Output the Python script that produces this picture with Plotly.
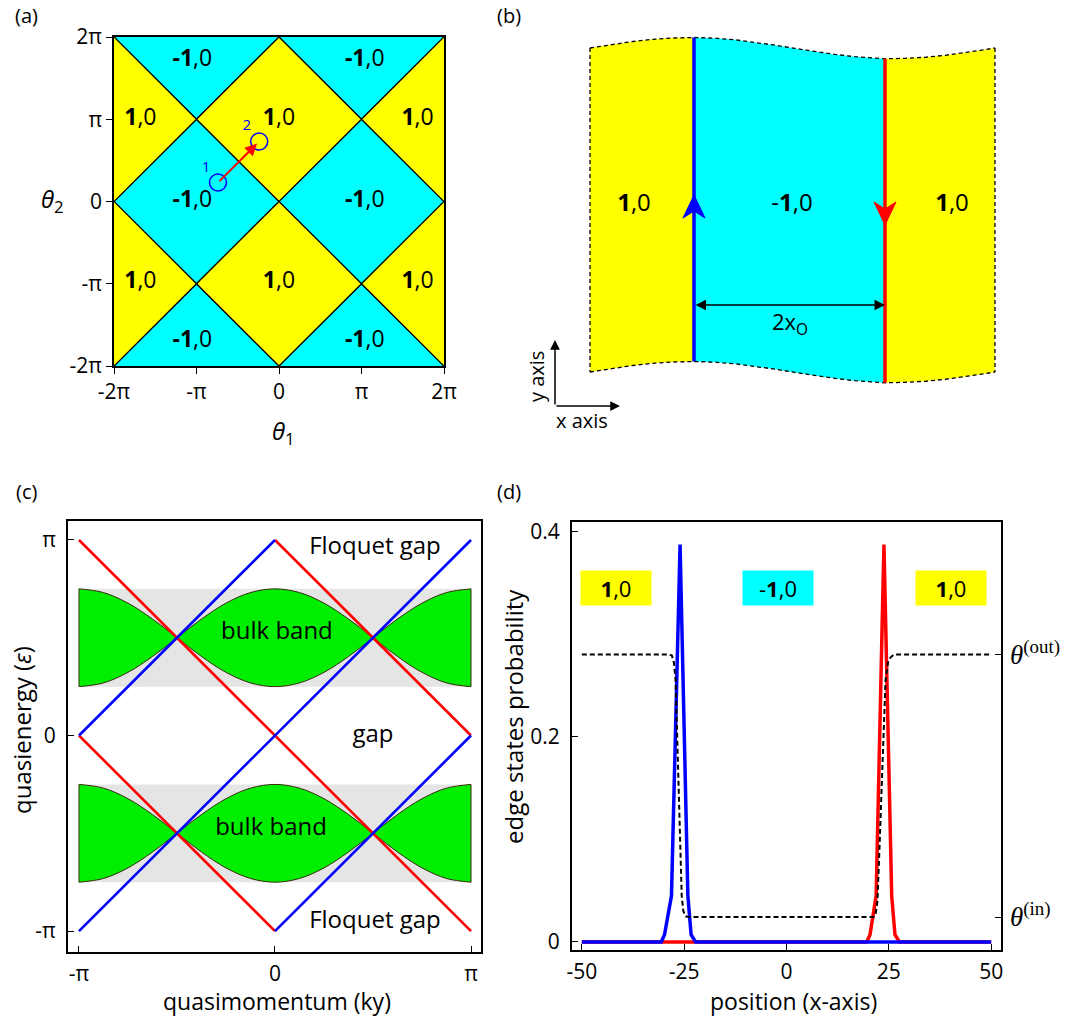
import math
import plotly.graph_objects as go

PI = math.pi
W, H = 1085, 1016
FONT = "Open Sans, sans-serif"
SERIF = "Liberation Serif, DejaVu Serif, serif"
YELLOW = "#ffff00"
CYAN = "#00ffff"
GREEN = "#00ee00"
GRAY = "#e5e5e5"


def px(x):
    return x / W


def py(y):
    return 1 - y / H


# ---------------- (a) phase diagram data (units of pi) ----------------
a_tick_vals = [-2, -1, 0, 1, 2]
a_tick_text = ["-2π", "-π", "0", "π", "2π"]
a_cyan_cx = [-1, 1, -1, 1, -1, 1]
a_cyan_cy = [0, 0, 2, 2, -2, -2]
a_yellow_cx = [0, 0, -2, -2, 2, 2]
a_yellow_cy = [1, -1, 1, -1, 1, -1]
a_label_x = [-1.05, 1.04, -1.05, 1.04, -1.05, 1.04, -1.68, 0.0, 1.68, -1.68, 0.0, 1.68]
a_label_y = [1.72, 1.72, 0.0, 0.0, -1.70, -1.70, 1.0, 1.0, 1.0, -0.98, -0.98, -0.98]
a_label_text = ["<b>-1</b>,0"] * 6 + ["<b>1</b>,0"] * 6
a_path_x = [-0.74, -0.24]
a_path_y = [0.23, 0.73]
a_path_labels = ["1", "2"]
a_path_label_x = [-0.885, -0.39]
a_path_label_y = [0.40, 0.91]

# ---------------- (b) schematic geometry (schematic pixel units) ----------------
b_edge_x = [590, 694, 885, 995]          # left border, blue edge, red edge, right border
b_wave_x = [590, 610, 630, 650, 670, 694, 715, 735, 755, 775, 795, 815, 835, 855, 885,
            905, 925, 945, 965, 980, 995]
b_wave_top = [48, 44.8, 41.9, 39.6, 38.1, 37.5, 38.2, 39.8, 42.2, 45.2, 48.4, 51.6, 54.4,
              56.7, 58.8, 58.3, 57.3, 55.3, 52.7, 50.4, 48]
b_height = 324
b_region_colors = [YELLOW, CYAN, YELLOW]
b_label_x = [634, 792, 952]
b_label_y = [205, 205, 205]
b_label_text = ["<b>1</b>,0", "-<b>1</b>,0", "<b>1</b>,0"]
b_up_head = dict(tip=195, base=218, notch=211, half=11)
b_down_head = dict(tip=225, base=202, notch=209, half=11)
b_span_y = 305
b_axes_origin = (555, 406)
b_axes_tip = (620, 340)

# ---------------- (c) quasienergy spectrum (units of pi) ----------------
c_ticks = [-1, 0, 1]
c_tick_text = ["-π", "0", "π"]
c_red_k = [-1, 1, None, 0, 1, None, -1, 0]
c_red_e = [1, -1, None, 1, 0, None, 0, -1]
c_blue_k = [-1, 1, None, -1, 0, None, 0, 1]
c_blue_e = [-1, 1, None, 0, 1, None, -1, 0]
c_band_k = [-1, -0.875, -0.75, -0.625, -0.5, -0.375, -0.25, -0.125, 0,
            0.125, 0.25, 0.375, 0.5, 0.625, 0.75, 0.875, 1]
c_band_shape = [-0.25, -0.231, -0.177, -0.096, 0, 0.096, 0.177, 0.231, 0.25,
                0.231, 0.177, 0.096, 0, -0.096, -0.177, -0.231, -0.25]
c_band_centers = [0.5, -0.5]
c_gray_half = 0.25
c_text = ["Floquet gap", "bulk band", "gap", "bulk band", "Floquet gap"]
c_text_k = [0.51, 0.01, 0.50, -0.02, 0.51]
c_text_e = [0.96, 0.525, 0.0, -0.48, -0.955]

# ---------------- (d) edge state profiles ----------------
d_xticks = [-50, -25, 0, 25, 50]
d_yticks = [0, 0.2, 0.4]
d_blue_x = [-50, -30.6, -29.8, -28.1, -26.0, -24.1, -23.3, -22.2, 50]
d_blue_y = [0, 0, 0.007, 0.045, 0.387, 0.045, 0.007, 0, 0]
d_red_x = [-50, 19.6, 20.4, 21.9, 23.8, 25.7, 26.5, 27.6, 50]
d_red_y = [0, 0, 0.007, 0.045, 0.387, 0.045, 0.007, 0, 0]
d_theta_x = [-50, -28.6, -28.0, -27.5, -27.1, -26.6, -26.1, -25.6, -25.2, -24.6, -24.0,
             21.3, 21.8, 22.2, 22.7, 23.2, 23.7, 24.2, 24.8, 25.4, 26.2, 50]
d_theta_y = [0.280, 0.280, 0.279, 0.272, 0.255, 0.19, 0.115, 0.045, 0.030, 0.025, 0.0243,
             0.0243, 0.028, 0.039, 0.09, 0.145, 0.20, 0.255, 0.272, 0.277, 0.280, 0.280]
d_theta_ticks = [0.280, 0.0243]
d_theta_text = ["<i>θ</i><sup>(out)</sup>", "<i>θ</i><sup>(in)</sup>"]
d_box_x = [-41.6, -2.0, 40.3]
d_box_y = [0.345, 0.345, 0.345]
d_box_text = ["<b>1</b>,0", "-<b>1</b>,0", "<b>1</b>,0"]
d_box_color = [YELLOW, CYAN, YELLOW]

fig = go.Figure()
ann = []

# ====== (a) ======
def diamonds(cx, cy):
    xs, ys = [], []
    for x0, y0 in zip(cx, cy):
        xs += [(x0 - 1) * PI, x0 * PI, (x0 + 1) * PI, x0 * PI, (x0 - 1) * PI, None]
        ys += [y0 * PI, (y0 + 1) * PI, y0 * PI, (y0 - 1) * PI, y0 * PI, None]
    return xs, ys

for cx, cy, col in [(a_cyan_cx, a_cyan_cy, CYAN), (a_yellow_cx, a_yellow_cy, YELLOW)]:
    xs, ys = diamonds(cx, cy)
    fig.add_trace(go.Scatter(x=xs, y=ys, mode="lines", fill="toself", fillcolor=col,
                             line=dict(color="black", width=1.2), xaxis="x", yaxis="y",
                             hoverinfo="skip", showlegend=False))

fig.add_trace(go.Scatter(x=[v * PI for v in a_path_x], y=[v * PI for v in a_path_y],
                         mode="markers", marker=dict(symbol="circle-open", size=17,
                                                     line=dict(color="blue", width=1.5), color="blue"),
                         xaxis="x", yaxis="y", hoverinfo="skip", showlegend=False))
fig.add_trace(go.Scatter(x=[v * PI for v in a_path_label_x], y=[v * PI for v in a_path_label_y],
                         mode="text", text=a_path_labels, textfont=dict(color="blue", size=15, family=FONT),
                         xaxis="x", yaxis="y", hoverinfo="skip", showlegend=False))
fig.add_trace(go.Scatter(x=[v * PI for v in a_label_x], y=[v * PI for v in a_label_y],
                         mode="text", text=a_label_text, textfont=dict(color="black", size=23, family=FONT),
                         xaxis="x", yaxis="y", hoverinfo="skip", showlegend=False))
ann.append(dict(x=a_path_x[1] * PI, y=a_path_y[1] * PI, ax=a_path_x[0] * PI, ay=a_path_y[0] * PI,
                xref="x", yref="y", axref="x", ayref="y", text="", showarrow=True,
                arrowhead=2, arrowsize=1.2, arrowwidth=2, arrowcolor="red", standoff=3))

# ====== (b) ======
bottom = [t + b_height for t in b_wave_top]
for i, col in enumerate(b_region_colors):
    xa, xb = b_edge_x[i], b_edge_x[i + 1]
    idx = [j for j, x in enumerate(b_wave_x) if xa <= x <= xb]
    xs = [b_wave_x[j] for j in idx] + [b_wave_x[j] for j in reversed(idx)] + [b_wave_x[idx[0]]]
    ys = [b_wave_top[j] for j in idx] + [bottom[j] for j in reversed(idx)] + [b_wave_top[idx[0]]]
    fig.add_trace(go.Scatter(x=xs, y=ys, mode="lines", fill="toself", fillcolor=col,
                             line=dict(width=0, color=col), xaxis="x2", yaxis="y2",
                             hoverinfo="skip", showlegend=False))
# dashed outline
ox = b_wave_x + [None] + b_wave_x + [None] + [b_edge_x[0], b_edge_x[0], None, b_edge_x[-1], b_edge_x[-1]]
oy = b_wave_top + [None] + bottom + [None] + [b_wave_top[0], bottom[0], None, b_wave_top[-1], bottom[-1]]
fig.add_trace(go.Scatter(x=ox, y=oy, mode="lines", line=dict(color="black", width=1.3, dash="4px,3px"),
                         xaxis="x2", yaxis="y2", hoverinfo="skip", showlegend=False))
# edges
for xe, col in [(b_edge_x[1], "blue"), (b_edge_x[2], "red")]:
    j = b_wave_x.index(xe)
    fig.add_trace(go.Scatter(x=[xe, xe], y=[b_wave_top[j], bottom[j]], mode="lines",
                             line=dict(color=col, width=3.5), xaxis="x2", yaxis="y2",
                             hoverinfo="skip", showlegend=False))
for xe, hd, col in [(b_edge_x[1], b_up_head, "blue"), (b_edge_x[2], b_down_head, "red")]:
    hx = [xe, xe - hd["half"], xe, xe + hd["half"], xe]
    hy = [hd["tip"], hd["base"], hd["notch"], hd["base"], hd["tip"]]
    fig.add_trace(go.Scatter(x=hx, y=hy, mode="lines", fill="toself", fillcolor=col,
                             line=dict(color=col, width=1), xaxis="x2", yaxis="y2",
                             hoverinfo="skip", showlegend=False))
fig.add_trace(go.Scatter(x=b_label_x, y=b_label_y, mode="text", text=b_label_text,
                         textfont=dict(color="black", size=24, family=FONT),
                         xaxis="x2", yaxis="y2", hoverinfo="skip", showlegend=False))
ann.append(dict(x=b_edge_x[2], y=b_span_y, ax=b_edge_x[1], ay=b_span_y, xref="x2", yref="y2",
                axref="x2", ayref="y2", text="", showarrow=True, arrowside="end+start",
                arrowhead=2, arrowsize=1.4, arrowwidth=1.5, arrowcolor="black"))
ann.append(dict(x=(b_edge_x[1] + b_edge_x[2]) / 2, y=b_span_y + 18, xref="x2", yref="y2",
                xanchor="center", yanchor="middle",
                text="2x<sub>O</sub>", showarrow=False, font=dict(size=22, family=FONT, color="black")))
ox0, oy0 = b_axes_origin
ann.append(dict(x=ox0, y=b_axes_tip[1], ax=ox0, ay=oy0, xref="x2", yref="y2", axref="x2", ayref="y2",
                text="", showarrow=True, arrowhead=2, arrowsize=1.3, arrowwidth=1.5, arrowcolor="black"))
ann.append(dict(x=b_axes_tip[0], y=oy0, ax=ox0, ay=oy0, xref="x2", yref="y2", axref="x2", ayref="y2",
                text="", showarrow=True, arrowhead=2, arrowsize=1.3, arrowwidth=1.5, arrowcolor="black"))
ann.append(dict(x=px(582), y=py(421), xref="paper", yref="paper", text="x axis", showarrow=False,
                xanchor="center", yanchor="middle", font=dict(size=20, family=FONT, color="black")))
ann.append(dict(x=px(536), y=py(377), xref="paper", yref="paper", text="y axis", showarrow=False,
                xanchor="center", yanchor="middle", textangle=-90,
                font=dict(size=20, family=FONT, color="black")))

# ====== (c) ======
for ce in c_band_centers:
    lo, hi = (ce - c_gray_half) * PI, (ce + c_gray_half) * PI
    fig.add_trace(go.Scatter(x=[-PI, PI, PI, -PI, -PI], y=[lo, lo, hi, hi, lo], mode="lines",
                             fill="toself", fillcolor=GRAY, line=dict(width=0, color=GRAY),
                             xaxis="x3", yaxis="y3", hoverinfo="skip", showlegend=False))
for ce in c_band_centers:
    kk = [k * PI for k in c_band_k]
    up = [(ce + s) * PI for s in c_band_shape]
    dn = [(ce - s) * PI for s in c_band_shape]
    fig.add_trace(go.Scatter(x=kk, y=up, mode="lines", line=dict(color="#3a2a10", width=1, shape="spline"),
                             xaxis="x3", yaxis="y3", hoverinfo="skip", showlegend=False))
    fig.add_trace(go.Scatter(x=kk, y=dn, mode="lines", fill="tonexty", fillcolor=GREEN,
                             line=dict(color="#3a2a10", width=1, shape="spline"),
                             xaxis="x3", yaxis="y3", hoverinfo="skip", showlegend=False))
    fig.add_trace(go.Scatter(x=[kk[0], kk[0], None, kk[-1], kk[-1]],
                             y=[up[0], dn[0], None, up[-1], dn[-1]], mode="lines",
                             line=dict(color="#3a2a10", width=1), xaxis="x3", yaxis="y3",
                             hoverinfo="skip", showlegend=False))
for ks, es, col in [(c_red_k, c_red_e, "red"), (c_blue_k, c_blue_e, "blue")]:
    fig.add_trace(go.Scatter(x=[None if k is None else k * PI for k in ks],
                             y=[None if e is None else e * PI for e in es], mode="lines",
                             line=dict(color=col, width=2.6), xaxis="x3", yaxis="y3",
                             hoverinfo="skip", showlegend=False))
fig.add_trace(go.Scatter(x=[k * PI for k in c_text_k], y=[e * PI for e in c_text_e], mode="text",
                         text=c_text, textfont=dict(size=24, family=FONT, color="black"),
                         xaxis="x3", yaxis="y3", hoverinfo="skip", showlegend=False))

# ====== (d) ======
fig.add_trace(go.Scatter(x=d_red_x, y=d_red_y, mode="lines", line=dict(color="red", width=3.5),
                         xaxis="x4", yaxis="y4", hoverinfo="skip", showlegend=False))
fig.add_trace(go.Scatter(x=d_blue_x, y=d_blue_y, mode="lines", line=dict(color="blue", width=3.5),
                         xaxis="x4", yaxis="y4", hoverinfo="skip", showlegend=False))
fig.add_trace(go.Scatter(x=d_theta_x, y=d_theta_y, mode="lines",
                         line=dict(color="black", width=2, dash="5px,3px"),
                         xaxis="x4", yaxis="y5", hoverinfo="skip", showlegend=False))
for bx, by, bt, bc in zip(d_box_x, d_box_y, d_box_text, d_box_color):
    ann.append(dict(x=bx, y=by, xref="x4", yref="y4", text=bt, showarrow=False, bgcolor=bc,
                    xanchor="center", yanchor="middle",
                    width=68, height=32, font=dict(size=22, family=FONT, color="black")))

# ====== axis titles & panel labels ======
for txt, x, y, ang, size in [
    ("(a)", 26, 16, 0, 20), ("(b)", 509, 16, 0, 20), ("(c)", 26, 491, 0, 20), ("(d)", 509, 491, 0, 20),
    ("<i>θ</i><sub>2</sub>", 52, 200, 0, 24), ("<i>θ</i><sub>1</sub>", 283, 432, 0, 24),
    ("quasienergy (<i>ε</i>)", 21, 730, -90, 24), ("quasimomentum (ky)", 277, 1001, 0, 23),
    ("edge states probability", 513, 717, -90, 24), ("position (x-axis)", 793, 1001, 0, 23),
]:
    ann.append(dict(x=px(x), y=py(y), xref="paper", yref="paper", text=txt, showarrow=False,
                    xanchor="center", yanchor="middle",
                    textangle=ang, font=dict(size=size, family=FONT, color="black")))

frame = dict(showline=True, mirror=True, linecolor="black", showgrid=False, zeroline=False,
             automargin=False, tickcolor="black", tickfont=dict(size=21, family=FONT, color="black"))

fig.update_layout(
    width=W, height=H, margin=dict(l=0, r=0, t=0, b=0, pad=0, autoexpand=False),
    paper_bgcolor="white", plot_bgcolor="white", showlegend=False,
    font=dict(family=FONT, color="black"),
    xaxis=dict(frame, domain=[px(114), px(444)], range=[-2 * PI, 2 * PI],
               tickvals=[v * PI for v in a_tick_vals], ticktext=a_tick_text,
               ticks="outside", ticklen=6, linewidth=1.5, anchor="y"),
    yaxis=dict(frame, domain=[py(366), py(37)], range=[-2 * PI, 2 * PI],
               tickvals=[v * PI for v in a_tick_vals], ticktext=a_tick_text,
               ticks="outside", ticklen=6, linewidth=1.5, anchor="x"),
    xaxis2=dict(domain=[px(540), 1.0], range=[540, 1085], visible=False, anchor="y2", automargin=False),
    yaxis2=dict(domain=[py(440), 1.0], range=[440, 0], visible=False, anchor="x2", automargin=False),
    xaxis3=dict(frame, domain=[px(68), px(481)], range=[-1.056 * PI, 1.051 * PI],
                tickvals=[v * PI for v in c_ticks], ticktext=c_tick_text,
                ticks="inside", ticklen=6, linewidth=2, anchor="y3", ticklabelstandoff=2),
    yaxis3=dict(frame, domain=[py(952), py(521)], range=[-1.107 * PI, 1.097 * PI],
                tickvals=[v * PI for v in c_ticks], ticktext=c_tick_text,
                ticks="inside", ticklen=6, linewidth=2, anchor="x3", ticklabelstandoff=6),
    xaxis4=dict(frame, domain=[px(572), px(1001)], range=[-52.4, 52.4],
                tickvals=d_xticks, ticktext=[str(v) for v in d_xticks],
                ticks="inside", ticklen=6, linewidth=2, anchor="y4", ticklabelstandoff=2),
    yaxis4=dict(frame, domain=[py(950), py(522)], range=[-0.0078, 0.409],
                tickvals=d_yticks, ticktext=["0", "0.2", "0.4"],
                ticks="inside", ticklen=6, linewidth=2, anchor="x4", ticklabelstandoff=6),
    yaxis5=dict(overlaying="y4", side="right", anchor="x4", range=[-0.0078, 0.409],
                tickvals=d_theta_ticks, ticktext=d_theta_text, ticks="inside", ticklen=6,
                tickcolor="black", showgrid=False, zeroline=False, showline=False, automargin=False,
                tickfont=dict(size=27, family=SERIF, color="black"), ticklabelstandoff=8),
    annotations=ann,
)

fig.write_html("out.html", config={"displayModeBar": False},
               post_script="document.body.style.margin='0';")
